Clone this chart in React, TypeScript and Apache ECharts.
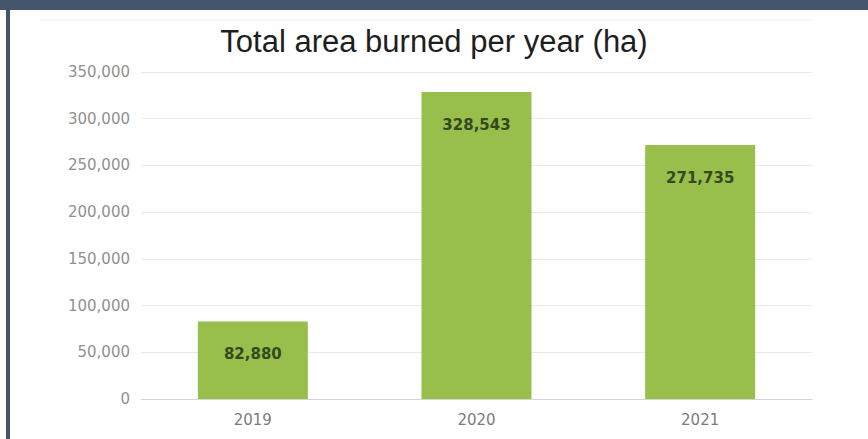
import React, { useEffect, useRef } from "react";
import * as echarts from "echarts";

const categories = ["2019", "2020", "2021"];
const areaBurned = [82880, 328543, 271735];
const yTicks = { min: 0, max: 350000, interval: 50000 };
const titleText = "Total area burned per year (ha)";

const fmt = (v: number) => v.toLocaleString("en-US");

export default function App() {
  const ref = useRef<HTMLDivElement>(null);
  useEffect(() => {
    if (!ref.current) return;
    const chart = echarts.init(ref.current, undefined, { renderer: "svg" });
    chart.setOption({
      animation: false,
      backgroundColor: "#ffffff",
      title: {
        text: titleText,
        left: "center",
        top: 21,
        textStyle: {
          fontFamily: "Liberation Sans, Arial, sans-serif",
          fontSize: 31,
          fontWeight: "normal",
          color: "#1e1e1e",
        },
      },
      graphic: [
        { type: "rect", shape: { x: 0, y: 0, width: 868, height: 10 }, style: { fill: "#45566c" } },
        { type: "rect", shape: { x: 6, y: 0, width: 4, height: 439 }, style: { fill: "#45566c" } },
        { type: "line", shape: { x1: 40, y1: 20, x2: 812, y2: 20 }, style: { stroke: "#ececec", lineWidth: 1 } },
      ],
      grid: { left: 141, right: 56, top: 72, bottom: 40, containLabel: false },
      xAxis: {
        type: "category",
        data: categories,
        axisLine: { lineStyle: { color: "#d4d4d4" } },
        axisTick: { show: false },
        axisLabel: {
          margin: 13,
          fontFamily: "DejaVu Sans, Verdana, sans-serif",
          fontSize: 15,
          color: "#7c7c7c",
        },
      },
      yAxis: {
        type: "value",
        min: yTicks.min,
        max: yTicks.max,
        interval: yTicks.interval,
        axisLine: { show: false },
        axisTick: { show: false },
        splitLine: { lineStyle: { color: "#e9e9e9" } },
        axisLabel: {
          margin: 11,
          fontFamily: "DejaVu Sans, Verdana, sans-serif",
          fontSize: 15,
          color: "#909090",
          formatter: (v: number) => fmt(v),
        },
      },
      series: [
        {
          type: "bar",
          data: areaBurned,
          barWidth: 110,
          itemStyle: { color: "#98bf4c" },
          label: {
            show: true,
            position: "insideTop",
            distance: 25,
            fontFamily: "DejaVu Sans, Verdana, sans-serif",
            fontSize: 15,
            fontWeight: "bold",
            color: "#34491f",
            formatter: (p: any) => fmt(p.value),
          },
        },
      ],
    });
    return () => chart.dispose();
  }, []);
  return (
    <div
      ref={ref}
      style={{ position: "fixed", left: 0, top: 0, width: 868, height: 439 }}
    />
  );
}
